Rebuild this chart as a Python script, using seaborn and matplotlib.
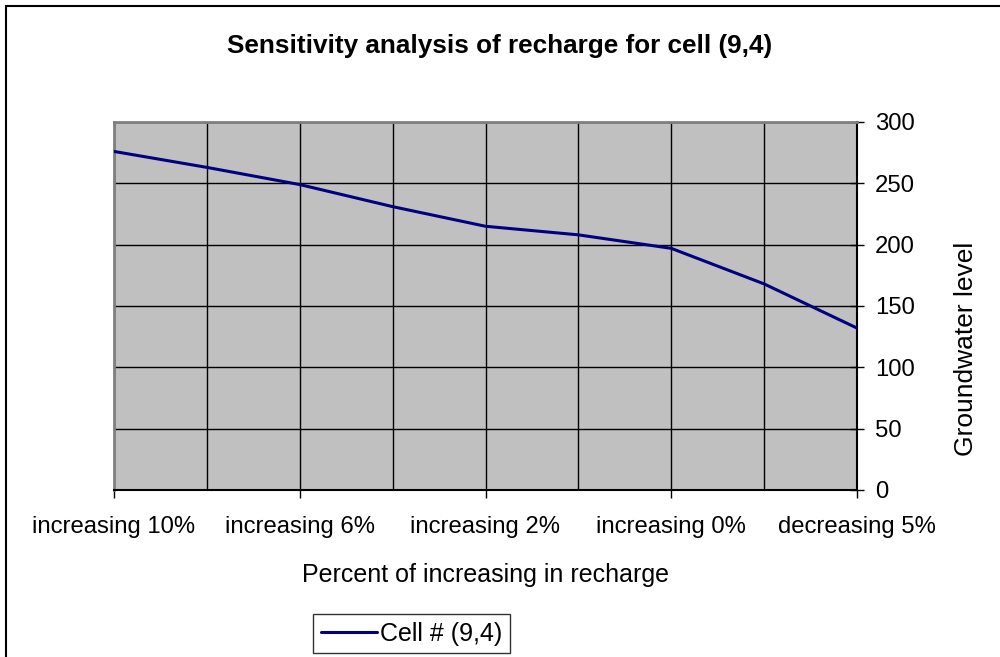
import numpy as np
import pandas as pd
import seaborn as sns
import matplotlib
matplotlib.use("Agg")
import matplotlib.pyplot as plt
from matplotlib.patches import Rectangle
from matplotlib.ticker import FixedLocator

# ---- data ----
categories = ["increasing 10%", "", "increasing 6%", "", "increasing 2%", "",
              "increasing 0%", "", "decreasing 5%"]
groundwater = [276, 263, 249, 231, 215, 208, 197, 168, 132]
series_name = "Cell # (9,4)"
y_ticks = [0, 50, 100, 150, 200, 250, 300]

sns.set_theme(style="white")
plt.rcParams['font.family'] = ['Liberation Sans', 'DejaVu Sans']
plt.rcParams['text.color'] = 'black'
plt.rcParams['axes.labelcolor'] = 'black'
plt.rcParams['xtick.color'] = 'black'
plt.rcParams['ytick.color'] = 'black'

W, H = 1000, 657
fig = plt.figure(figsize=(W / 100, H / 100), dpi=100)
fig.patch.set_facecolor("white")

L, R, T, B = 114, 857, 122, 490
ax = fig.add_axes([L / W, 1 - B / H, (R - L) / W, (B - T) / H])

df = pd.DataFrame({"pos": np.arange(len(groundwater)),
                   "level": groundwater,
                   "series": series_name})
sns.lineplot(data=df, x="pos", y="level", hue="series", palette=["#000080"],
             linewidth=2.2, ax=ax, zorder=5)

ax.set_facecolor("#C0C0C0")
ax.set_xlim(0, len(groundwater) - 1)
ax.set_ylim(0, 300)

# x axis: labels every other category, grid at every category
major_pos = [i for i, c in enumerate(categories) if c]
minor_pos = [i for i, c in enumerate(categories) if not c]
ax.xaxis.set_major_locator(FixedLocator(major_pos))
ax.xaxis.set_minor_locator(FixedLocator(minor_pos))
ax.set_xticklabels([categories[i] for i in major_pos])
ax.tick_params(axis="x", which="major", direction="out", length=6, width=1,
               color="black", labelcolor="black", labelsize=17.2, pad=13, bottom=True)
ax.tick_params(axis="x", which="minor", length=0)

# y axis on right
ax.yaxis.tick_right()
ax.yaxis.set_label_position("right")
ax.set_yticks(y_ticks)
ax.tick_params(axis="y", which="major", direction="inout", length=10, width=1,
               color="black", labelcolor="black", labelsize=17.2, pad=8,
               right=True, left=False)

ax.grid(True, which="both", axis="x", color="black", linewidth=1)
ax.grid(True, which="major", axis="y", color="black", linewidth=1)
ax.set_axisbelow(True)

for s in ["top", "left"]:
    ax.spines[s].set_color("#808080")
    ax.spines[s].set_linewidth(2)
for s in ["right", "bottom"]:
    ax.spines[s].set_color("black")
    ax.spines[s].set_linewidth(1.5)

ax.set_xlabel("Percent of increasing in recharge", fontsize=18, color="black")
ax.xaxis.set_label_coords(0.5, (B - 575) / (B - T))
ax.xaxis.label.set_va("center")
ax.set_ylabel("Groundwater level", fontsize=19, color="black")
ax.yaxis.set_label_coords((966 - L) / (R - L), (B - 348.5) / (B - T))
ax.yaxis.label.set_va("center")
ax.yaxis.label.set_ha("center")

fig.text(0.5, 1 - 46 / H, "Sensitivity analysis of recharge for cell (9,4)",
         ha="center", va="center", fontsize=18.8, fontweight="bold", color="black")

# legend
ax.get_legend().remove()
handles, labels = ax.get_legend_handles_labels()
leg = fig.legend(handles, labels, loc="center",
                 bbox_to_anchor=(411.5 / W, 1 - 633.5 / H),
                 frameon=True, fancybox=False, shadow=False, fontsize=18,
                 handlelength=2.25, handletextpad=0.12, borderpad=0.3,
                 borderaxespad=0)
for t in leg.get_texts():
    t.set_color("black")
leg.get_frame().set_edgecolor("black")
leg.get_frame().set_linewidth(1)

# outer chart border
fig.patches.append(Rectangle((6 / W, -0.5), 2, 0.5 + 1 - 6 / H, transform=fig.transFigure,
                             fill=False, edgecolor="black", linewidth=1.5))

fig.savefig("out.png", dpi=100, facecolor="white")
